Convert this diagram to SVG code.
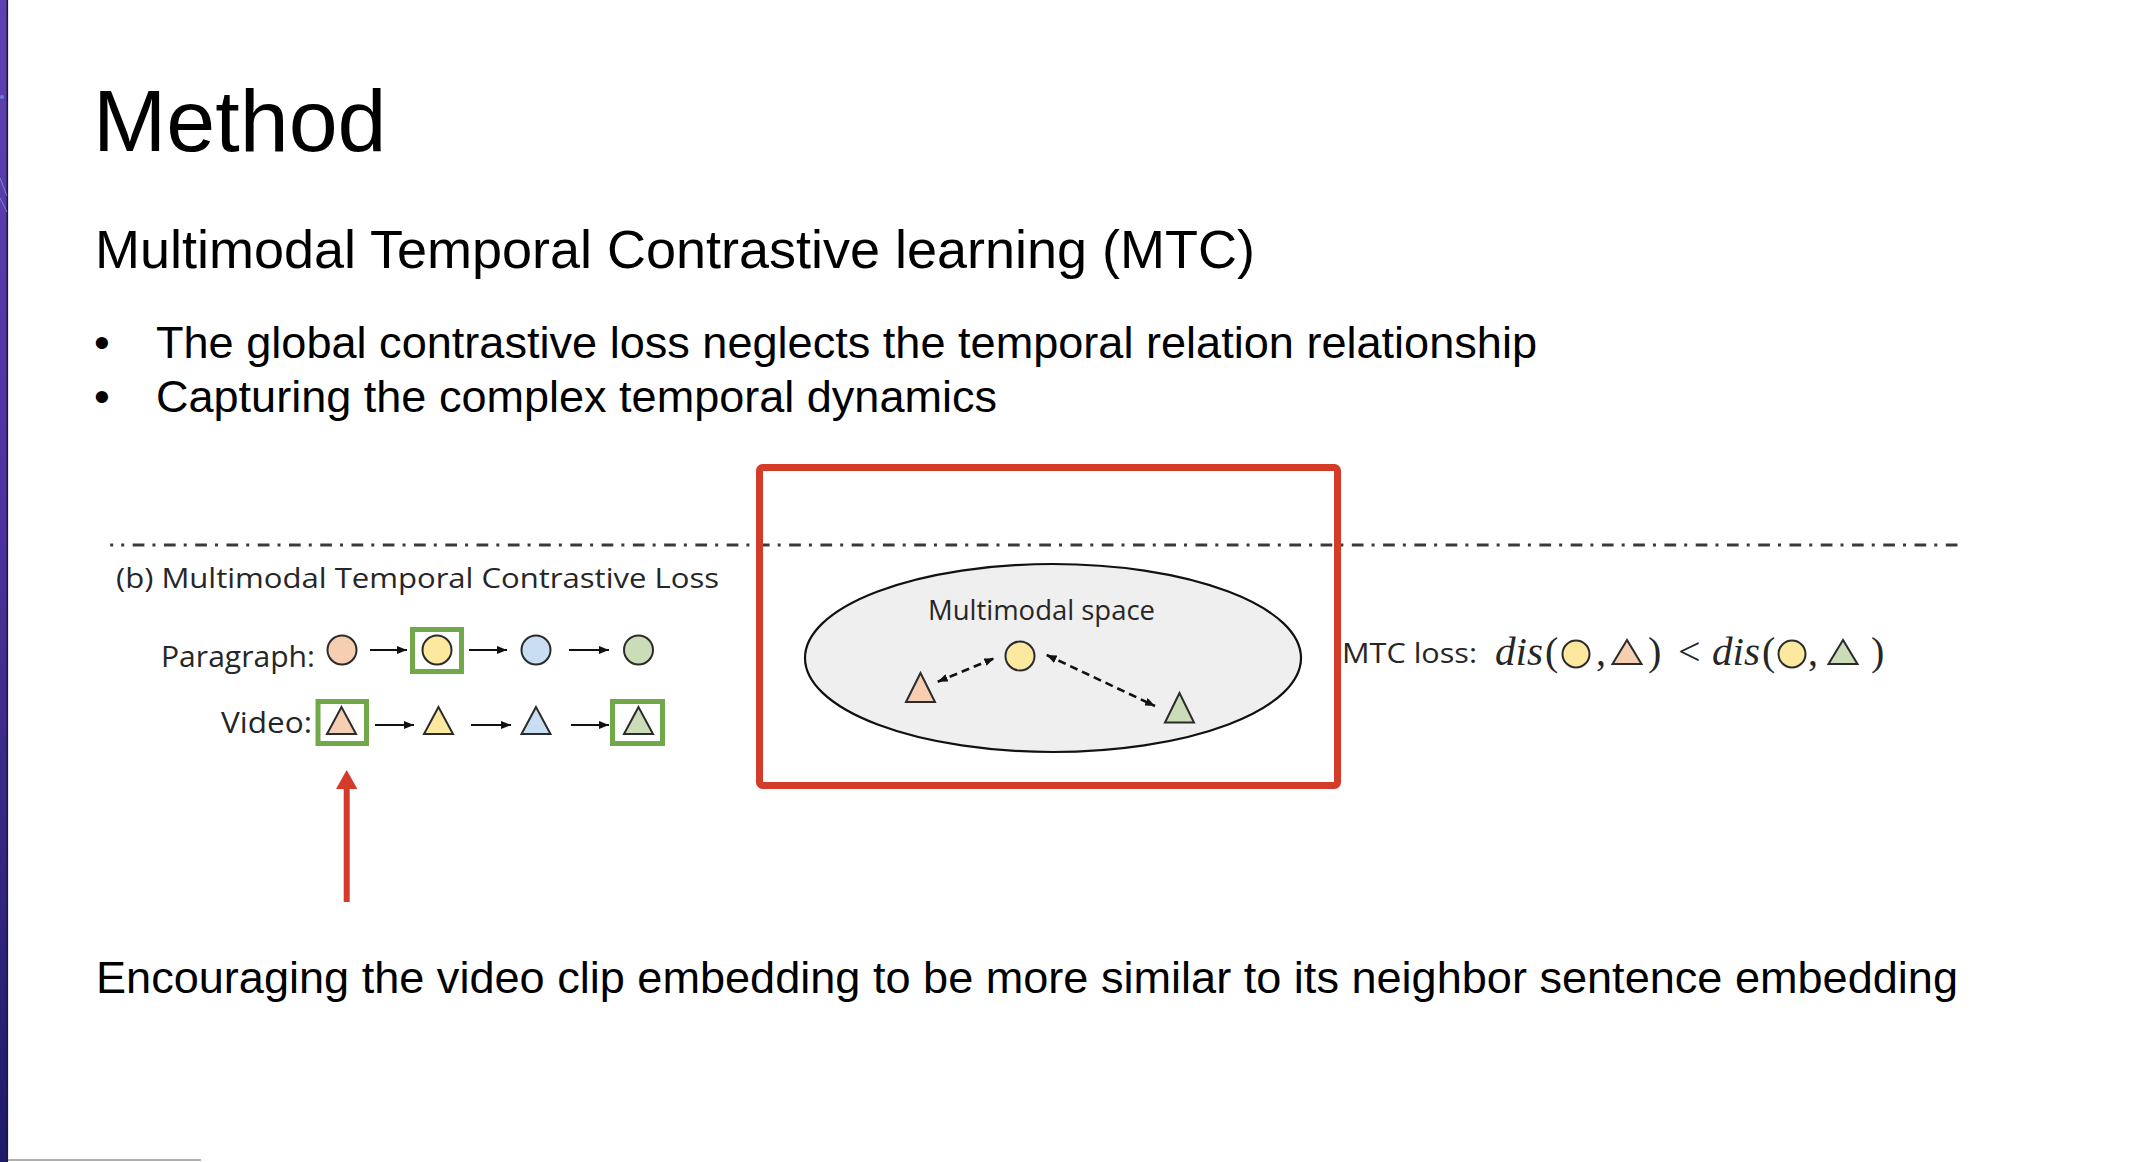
<svg xmlns="http://www.w3.org/2000/svg" width="2156" height="1162" viewBox="0 0 2156 1162">
  <defs>
    <linearGradient id="sideBand" x1="0" y1="0" x2="0" y2="1">
      <stop offset="0" stop-color="#5f42b0"/>
      <stop offset="0.45" stop-color="#4c339e"/>
      <stop offset="1" stop-color="#1f1a68"/>
    </linearGradient>
    <marker id="headBlack" viewBox="0 0 10 8" refX="10" refY="4" markerWidth="10" markerHeight="8" markerUnits="userSpaceOnUse" orient="auto-start-reverse">
      <path d="M0,0 L10,4 L0,8 Z" fill="#111"/>
    </marker>
  </defs>
  <style>
    .slide { font-family: "Liberation Sans", Arial, sans-serif; fill: #000; }
    .fig { font-family: "Open Sans", "Noto Sans", sans-serif; fill: #262626; }
    .math { font-family: "Liberation Serif", "DejaVu Serif", serif; fill: #262626; font-size: 40px; }
    .var { font-style: italic; }
    .tok { stroke: #2b2b2b; stroke-width: 2; }
    .orange { fill: #f6ceb2; }
    .yellow { fill: #fde8a0; }
    .blue { fill: #c9def3; }
    .green { fill: #cbdcb9; }
    .pick { fill: none; stroke: #70a84a; stroke-width: 5; }
    .seq { stroke: #111; stroke-width: 2; fill: none; }
    .dist { stroke: #111; stroke-width: 2.6; stroke-dasharray: 8 5; fill: none; }
  </style>

  <!-- page background and left accent band -->
  <rect x="0" y="0" width="2156" height="1162" fill="#ffffff"/>
  <rect x="0" y="0" width="7" height="1162" fill="url(#sideBand)"/>
  <rect x="6.5" y="0" width="1.6" height="1162" fill="#1c1640"/>
  <g stroke="#9fb2ee" stroke-width="1" opacity="0.6" fill="none">
    <path d="M0,178 L7,196"/>
    <path d="M0,198 L7,212"/>
  </g>
  <circle cx="2" cy="97" r="2" fill="#7f98e6" opacity="0.7"/>
  <rect x="8" y="1159" width="193" height="2" fill="#b0b0b0"/>

  <!-- slide text -->
  <g id="title">
    <text class="slide" x="93" y="151" font-size="88">Method</text>
  </g>
  <g id="subtitle">
    <text class="slide" x="95" y="268" font-size="53.7" textLength="1160" lengthAdjust="spacingAndGlyphs">Multimodal Temporal Contrastive learning (MTC)</text>
  </g>
  <g id="bullets">
    <text class="slide" x="94" y="358" font-size="45">•</text>
    <text class="slide" x="156" y="358" font-size="45" textLength="1381" lengthAdjust="spacingAndGlyphs">The global contrastive loss neglects the temporal relation relationship</text>
    <text class="slide" x="94" y="412" font-size="45">•</text>
    <text class="slide" x="156" y="412" font-size="45" textLength="841" lengthAdjust="spacingAndGlyphs">Capturing the complex temporal dynamics</text>
  </g>

  <!-- dash-dot separator of the figure -->
  <g id="separator" fill="none" stroke="#3a3a3a" stroke-width="3">
    <line x1="110.2" y1="545" x2="113.2" y2="545"/>
    <line x1="121.2" y1="545" x2="1957.7" y2="545" stroke-dasharray="3 8.5 11.7 8.06"/>
  </g>

  <g id="figure-caption">
    <text class="fig" x="116" y="588" font-size="28" textLength="603" lengthAdjust="spacingAndGlyphs">(b) Multimodal Temporal Contrastive Loss</text>
  </g>

  <!-- paragraph sequence -->
  <g id="paragraph-row">
    <text class="fig" x="161" y="667" font-size="30" textLength="154" lengthAdjust="spacingAndGlyphs">Paragraph:</text>
    <circle class="tok orange" cx="342" cy="650" r="14.5"/>
    <rect class="pick" x="412.5" y="629.5" width="49" height="42"/>
    <circle class="tok yellow" cx="437" cy="650" r="14.5"/>
    <circle class="tok blue" cx="536" cy="650" r="14.5"/>
    <circle class="tok green" cx="638.5" cy="650" r="14.5"/>
  </g>

  <!-- video sequence -->
  <g id="video-row">
    <text class="fig" x="221" y="733" font-size="30" textLength="91" lengthAdjust="spacingAndGlyphs">Video:</text>
    <rect class="pick" x="318" y="701.5" width="48.5" height="42"/>
    <polygon class="tok orange" points="341.5,707 327,734 356,734"/>
    <polygon class="tok yellow" points="438.5,707 424,734 453,734"/>
    <polygon class="tok blue" points="536,707 521.5,734 550.5,734"/>
    <rect class="pick" x="612.5" y="701.5" width="50" height="42"/>
    <polygon class="tok green" points="638.5,707 624,734 653,734"/>
  </g>

  <!-- embedding space -->
  <g id="multimodal-space">
    <ellipse cx="1053" cy="658" rx="248" ry="94" fill="#efefef" stroke="#111" stroke-width="2.2"/>
    <text class="fig" x="928" y="620" font-size="27" textLength="227" lengthAdjust="spacingAndGlyphs">Multimodal space</text>
    <circle class="tok yellow" cx="1020" cy="656" r="14.5"/>
    <polygon class="tok orange" points="920.5,673 906,702 935,702"/>
    <polygon class="tok green" points="1179.5,693 1165,722.5 1194,722.5"/>
  </g>

  <!-- highlight frame -->
  <g id="highlight">
    <rect x="759.5" y="467.5" width="578" height="318" rx="3" fill="none" stroke="#d23c28" stroke-width="7"/>
  </g>

  <!-- loss inequality -->
  <g id="mtc-loss">
    <text class="fig" x="1342" y="663" font-size="28" textLength="135" lengthAdjust="spacingAndGlyphs">MTC loss:</text>
    <text class="math var" x="1495" y="665" textLength="48" lengthAdjust="spacingAndGlyphs">dis</text>
    <text class="math" x="1545" y="665">(</text>
    <circle class="tok yellow" cx="1576" cy="654" r="13.5"/>
    <text class="math" x="1596" y="665">,</text>
    <polygon class="tok orange" points="1627,640 1612.5,664 1641.5,664"/>
    <text class="math" x="1648" y="665">)</text>
    <text class="math" x="1678" y="665">&lt;</text>
    <text class="math var" x="1712" y="665" textLength="48" lengthAdjust="spacingAndGlyphs">dis</text>
    <text class="math" x="1762" y="665">(</text>
    <circle class="tok yellow" cx="1792" cy="654" r="13.5"/>
    <text class="math" x="1808" y="665">,</text>
    <polygon class="tok green" points="1843,640 1828.5,664 1857.5,664"/>
    <text class="math" x="1871" y="665">)</text>
  </g>

  <g id="conclusion">
    <text class="slide" x="96" y="993" font-size="45" textLength="1862" lengthAdjust="spacingAndGlyphs">Encouraging the video clip embedding to be more similar to its neighbor sentence embedding</text>
  </g>

  <!-- connectors -->
  <g id="connectors">
    <line class="seq" x1="370" y1="650" x2="407" y2="650" marker-end="url(#headBlack)"/>
    <line class="seq" x1="469" y1="650" x2="507" y2="650" marker-end="url(#headBlack)"/>
    <line class="seq" x1="569" y1="650" x2="609" y2="650" marker-end="url(#headBlack)"/>
    <line class="seq" x1="375" y1="725" x2="414" y2="725" marker-end="url(#headBlack)"/>
    <line class="seq" x1="471" y1="725" x2="511" y2="725" marker-end="url(#headBlack)"/>
    <line class="seq" x1="571" y1="725" x2="609" y2="725" marker-end="url(#headBlack)"/>
    <line class="dist" x1="937.7" y1="681.7" x2="994.3" y2="658.3" marker-start="url(#headBlack)" marker-end="url(#headBlack)"/>
    <line class="dist" x1="1046.7" y1="655" x2="1155" y2="706" marker-start="url(#headBlack)" marker-end="url(#headBlack)"/>
    <line x1="346.7" y1="786" x2="346.7" y2="902" stroke="#d23c28" stroke-width="6"/>
    <polygon points="346.7,770 336,789 357.4,789" fill="#d23c28"/>
  </g>
</svg>
